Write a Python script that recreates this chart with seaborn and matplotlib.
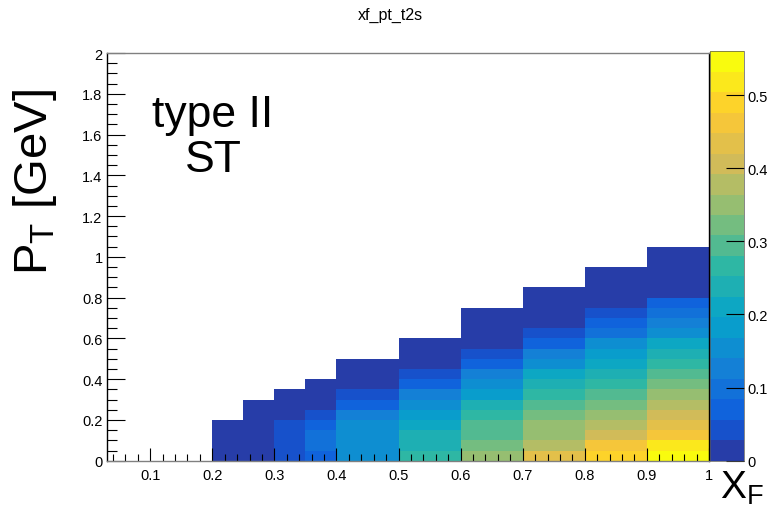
import matplotlib
matplotlib.use("Agg")
import matplotlib.pyplot as plt
from matplotlib.colors import ListedColormap, LinearSegmentedColormap
from matplotlib.ticker import MultipleLocator, FormatStrFormatter
import numpy as np
import pandas as pd
import seaborn as sns

plt.rcParams['font.family'] = ['Liberation Sans', 'DejaVu Sans']
plt.rcParams['mathtext.default'] = 'regular'

# x_F bin edges (variable width) and pT bin edges (0.05 GeV)
xf_edges = [0.2, 0.25, 0.3, 0.35, 0.4, 0.5, 0.6, 0.7, 0.8, 0.9, 1.0]
pt_edges = np.round(np.arange(0, 2.0001, 0.05), 2)

# bin contents for each x_F bin, listed from pT = 0 upward
xf_020_025 = [0.013, 0.012, 0.010, 0.006]
xf_025_030 = [0.020, 0.018, 0.016, 0.013, 0.009, 0.004]
xf_030_035 = [0.045, 0.044, 0.040, 0.033, 0.022, 0.014, 0.005]
xf_035_040 = [0.075, 0.090, 0.088, 0.068, 0.045, 0.024, 0.013, 0.005]
xf_040_050 = [0.160, 0.158, 0.150, 0.143, 0.120, 0.075, 0.045, 0.024, 0.013, 0.005]
xf_050_060 = [0.262, 0.245, 0.236, 0.212, 0.185, 0.156, 0.128, 0.072, 0.044,
              0.024, 0.013, 0.005]
xf_060_070 = [0.352, 0.330, 0.305, 0.290, 0.265, 0.240, 0.190, 0.158, 0.130,
              0.074, 0.045, 0.025, 0.016, 0.009, 0.004]
xf_070_080 = [0.440, 0.380, 0.360, 0.345, 0.325, 0.298, 0.270, 0.242, 0.212,
              0.160, 0.130, 0.075, 0.046, 0.025, 0.016, 0.009, 0.004]
xf_080_090 = [0.495, 0.465, 0.410, 0.382, 0.355, 0.326, 0.298, 0.270, 0.243,
              0.215, 0.188, 0.160, 0.100, 0.074, 0.046, 0.025, 0.016, 0.009, 0.004]
xf_090_100 = [0.555, 0.522, 0.466, 0.438, 0.410, 0.383, 0.355, 0.328, 0.300,
              0.272, 0.244, 0.216, 0.160, 0.132, 0.102, 0.074, 0.026, 0.018,
              0.012, 0.007, 0.003]

columns = [xf_020_025, xf_025_030, xf_030_035, xf_035_040, xf_040_050,
           xf_050_060, xf_060_070, xf_070_080, xf_080_090, xf_090_100]

rows = []
for lo, hi, col in zip(xf_edges[:-1], xf_edges[1:], columns):
    for j, v in enumerate(col):
        rows.append(((lo + hi) / 2, pt_edges[j] + 0.025, v))
df = pd.DataFrame(rows, columns=["xf", "pt", "w"])

# ROOT kBird palette, 20 contour levels
stops = [0.0, 0.125, 0.25, 0.375, 0.5, 0.625, 0.75, 0.875, 1.0]
red = [0.2082, 0.0592, 0.0780, 0.0232, 0.1802, 0.5301, 0.8186, 0.9956, 0.9764]
green = [0.1664, 0.3599, 0.5041, 0.6419, 0.7178, 0.7492, 0.7328, 0.7862, 0.9832]
blue = [0.5293, 0.8684, 0.8385, 0.7914, 0.6425, 0.4662, 0.3499, 0.1968, 0.0539]
bird = LinearSegmentedColormap.from_list(
    "bird", list(zip(stops, zip(red, green, blue))), N=255)
ncont = 20
bird20 = ListedColormap([bird(int((k + 0.99) * 255 / ncont) / 254) for k in range(ncont)])

fig = plt.figure(figsize=(7.72, 5.10), dpi=100)
ax = fig.add_axes([106.7 / 772, 48.3 / 510, 602.3 / 772, 407.7 / 510])
cax = fig.add_axes([709.5 / 772, 48.3 / 510, 34 / 772, 409.5 / 510])

sns.histplot(data=df, x="xf", y="pt", weights="w", bins=[xf_edges, pt_edges],
             cmap=bird20, vmin=0, vmax=0.56, cbar=True, cbar_ax=cax, ax=ax)

ax.set_xlim(0.03, 1.0)
ax.set_ylim(0, 2)
ax.set_xlabel("")
ax.set_ylabel("")

ax.xaxis.set_major_locator(MultipleLocator(0.1))
ax.xaxis.set_minor_locator(MultipleLocator(0.02))
ax.yaxis.set_major_locator(MultipleLocator(0.2))
ax.yaxis.set_minor_locator(MultipleLocator(0.05))
ax.xaxis.set_major_formatter(FormatStrFormatter('%g'))
ax.yaxis.set_major_formatter(FormatStrFormatter('%g'))
ax.tick_params(axis='x', which='major', direction='in', length=9.5, width=0.8,
               labelsize=10.5, pad=5)
ax.tick_params(axis='x', which='minor', direction='in', length=5, width=0.8)
ax.tick_params(axis='y', which='major', direction='in', length=13, width=0.8,
               labelsize=10.5, pad=3)
ax.tick_params(axis='y', which='minor', direction='in', length=7, width=0.8)

for side in ['top', 'bottom']:
    ax.spines[side].set_color('#808080')
for side in ['left', 'right']:
    ax.spines[side].set_color('black')
for sp in ax.spines.values():
    sp.set_linewidth(1.0)

cbar = ax.collections[0].colorbar
cbar.set_ticks([0, 0.1, 0.2, 0.3, 0.4, 0.5])
cbar.ax.yaxis.set_major_formatter(FormatStrFormatter('%g'))
cbar.ax.tick_params(direction='in', length=13, width=0.8, labelsize=10.5, pad=3)
cbar.ax.minorticks_off()
cbar.outline.set_linewidth(0.5)
cbar.outline.set_edgecolor('#555555')

fig.text(0.506, 1 - 15 / 510, "xf_pt_t2s", ha='center', va='center', fontsize=11.5)
fig.text(35 / 772, 1 - 182 / 510, "$P_{T}$ [GeV]", rotation=90,
         ha='center', va='center', fontsize=34)
fig.text(720 / 772, 11 / 510, "$X_{F}$", ha='left', va='baseline', fontsize=28)
fig.text(213 / 772, 1 - 138 / 510, "type II\nST", ha='center', va='center',
         fontsize=32, linespacing=1.15)

fig.savefig("out.png", dpi=100)
